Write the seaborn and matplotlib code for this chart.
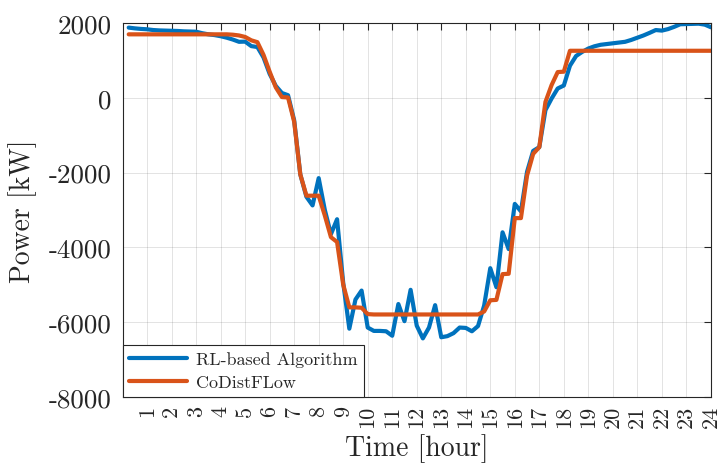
import numpy as np
import pandas as pd
import matplotlib
matplotlib.use("Agg")
import matplotlib.pyplot as plt
import seaborn as sns

# 15-minute samples over one day (hours)
time_h = np.arange(1, 97) / 4.0

# Power profiles [kW], four samples per hour
rl_power = [
    1880, 1860, 1845, 1835,
    1815, 1805, 1800, 1795,
    1790, 1780, 1775, 1770,
    1730, 1700, 1680, 1650,
    1610, 1560, 1500, 1505,
    1385, 1360, 1080, 640,
    320, 130, 70, -600,
    -2050, -2650, -2880, -2150,
    -3000, -3650, -3250, -4950,
    -6180, -5400, -5160, -6150,
    -6240, -6240, -6250, -6370,
    -5520, -5980, -5140, -6100,
    -6440, -6150, -5550, -6410,
    -6380, -6300, -6150, -6160,
    -6250, -6110, -5560, -4560,
    -5070, -3600, -4050, -2840,
    -3040, -1980, -1420, -1320,
    -330, -20, 250, 330,
    860, 1120, 1230, 1320,
    1380, 1420, 1440, 1460,
    1480, 1500, 1550, 1610,
    1670, 1740, 1815, 1800,
    1840, 1900, 1970, 1975,
    1980, 1985, 1960, 1890,
]

codistflow_power = [
    1700, 1700, 1700, 1700,
    1700, 1700, 1700, 1700,
    1700, 1700, 1700, 1700,
    1700, 1700, 1700, 1700,
    1700, 1690, 1670, 1630,
    1540, 1490, 1150, 700,
    280, 20, 10, -640,
    -2050, -2620, -2620, -2620,
    -3150, -3730, -3860, -5000,
    -5610, -5610, -5620, -5790,
    -5800, -5800, -5800, -5800,
    -5800, -5800, -5800, -5800,
    -5800, -5800, -5800, -5800,
    -5800, -5800, -5800, -5800,
    -5800, -5800, -5720, -5420,
    -5410, -4720, -4710, -3220,
    -3220, -2080, -1500, -1320,
    -110, 340, 690, 700,
    1260, 1260, 1260, 1260,
    1260, 1260, 1260, 1260,
    1260, 1260, 1260, 1260,
    1260, 1260, 1260, 1260,
    1260, 1260, 1260, 1260,
    1260, 1260, 1260, 1260,
]

series_names = ["RL-based Algorithm", "CoDistFLow"]
x_ticks = list(range(1, 25))
y_ticks = [-8000, -6000, -4000, -2000, 0, 2000]

df = pd.DataFrame({
    "Time": np.concatenate([time_h, time_h]),
    "Power": np.concatenate([rl_power, codistflow_power]),
    "Series": [series_names[0]] * len(time_h) + [series_names[1]] * len(time_h),
})

sns.set_style("white")
plt.rcParams["font.family"] = ["cmr10", "DejaVu Serif"]
plt.rcParams["mathtext.fontset"] = "cm"
plt.rcParams["axes.unicode_minus"] = False

ink = "#262626"
fig = plt.figure(figsize=(7.21, 4.64), dpi=100)
ax = fig.add_axes([0.170, 0.143, 0.816, 0.805])

sns.lineplot(data=df, x="Time", y="Power", hue="Series", hue_order=series_names,
             palette=["#0072BD", "#D95319"], linewidth=3.0, ax=ax, legend=True)

ax.set_xlim(0, 24)
ax.set_ylim(-8000, 2000)
ax.set_xticks(x_ticks)
ax.set_xticklabels([str(t) for t in x_ticks], rotation=90, fontsize=16, color=ink)
ax.set_yticks(y_ticks)
ax.set_yticklabels([str(v) for v in y_ticks], fontsize=19.5, color=ink)
ax.tick_params(axis="both", direction="in", top=True, right=True,
               length=5, width=0.8, color=ink)
ax.tick_params(axis="x", pad=6)
ax.tick_params(axis="y", pad=8)

ax.grid(True, color=ink, alpha=0.13, linewidth=0.7)
for sp in ax.spines.values():
    sp.set_color(ink)
    sp.set_linewidth(0.8)

ax.set_xlabel("Time [hour]", fontsize=20, color=ink, labelpad=4)
ax.set_ylabel("Power [kW]", fontsize=20, color=ink, labelpad=8)

handles, labels = ax.get_legend_handles_labels()
leg = ax.legend(handles, labels, loc="lower left", bbox_to_anchor=(0, 0),
                borderaxespad=0, frameon=True, fancybox=False, framealpha=1,
                edgecolor=ink, fontsize=13, handlelength=3.2, handletextpad=0.5,
                labelspacing=0.4, borderpad=0.35)
leg.get_frame().set_linewidth(0.8)

fig.savefig("out.png", dpi=100)
